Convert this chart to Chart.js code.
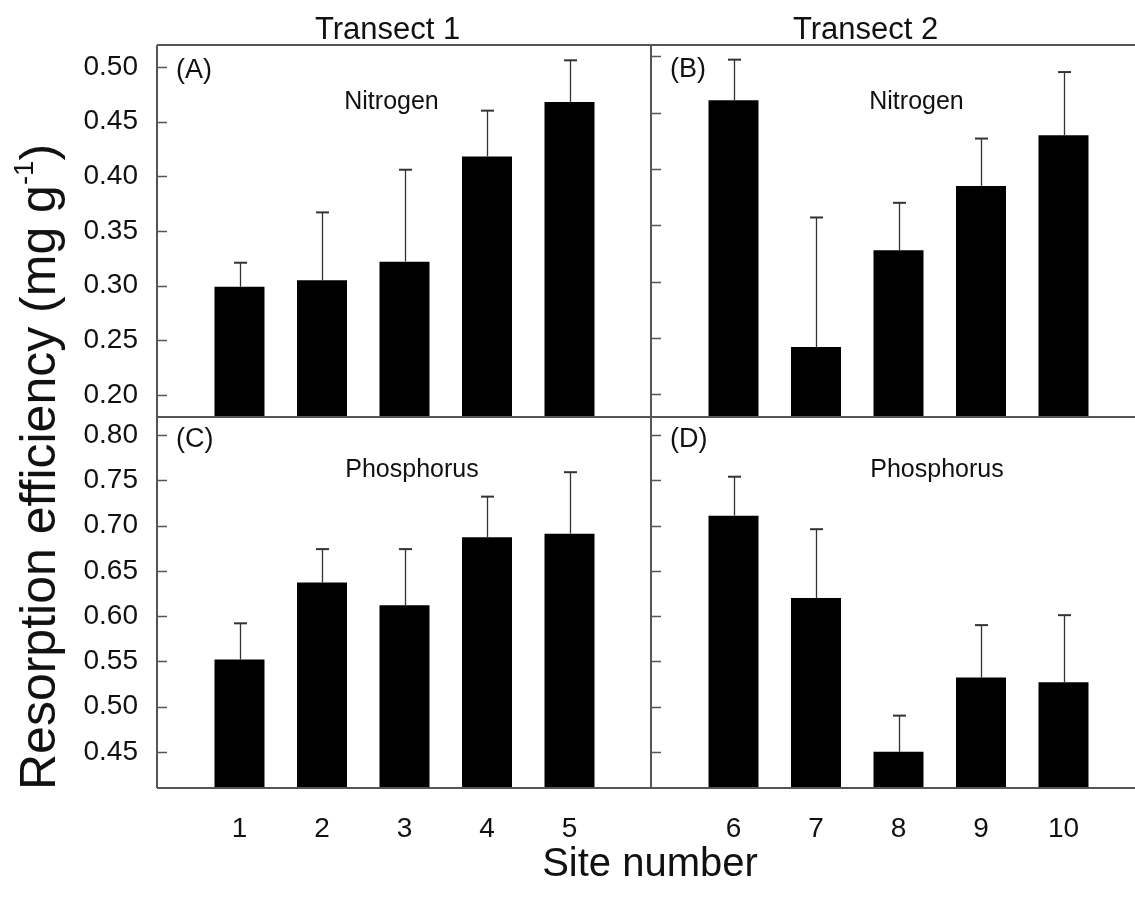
<!DOCTYPE html>
<html>
<head>
<meta charset="utf-8">
<script src="https://cdn.jsdelivr.net/npm/chart.js@4.4.1/dist/chart.umd.min.js"></script>
<style>
  html, body { margin: 0; padding: 0; background: #fff; overflow: hidden; }
  #wrap { position: relative; width: 1135px; height: 914px; overflow: hidden;
          font-family: "Liberation Sans", Arial, sans-serif; color: #111; }
  #wrap canvas { position: absolute; left: 0; top: 0; }
  .lbl { position: absolute; white-space: nowrap; line-height: 1; }
  .lbl sup { font-size: 0.55em; vertical-align: 0.8em; line-height: 0; }
</style>
</head>
<body>
<div id="wrap">
  <canvas id="panelA" width="1146" height="914"></canvas>
  <canvas id="panelB" width="1146" height="914"></canvas>
  <canvas id="panelC" width="1146" height="914"></canvas>
  <canvas id="panelD" width="1146" height="914"></canvas>

  <div class="lbl" style="left:315px; top:13px; font-size:31px;">Transect 1</div>
  <div class="lbl" style="left:793px; top:13px; font-size:31px;">Transect 2</div>
  <div class="lbl" style="left:38px; top:467px; font-size:50px; transform:translate(-50%,-50%) rotate(-90deg);">Resorption efficiency (mg g<sup>-1</sup>)</div>
  <div class="lbl" style="left:650px; top:842px; font-size:40px; transform:translateX(-50%);">Site number</div>
</div>

<script>
// Sites along each transect
const sitesT1 = [1, 2, 3, 4, 5];
const sitesT2 = [6, 7, 8, 9, 10];

// Nitrogen resorption efficiency: means and standard errors
const nitrogenT1    = [0.299, 0.305, 0.322, 0.418, 0.468];
const nitrogenT1Err = [0.022, 0.062, 0.084, 0.042, 0.038];
const nitrogenT2    = [0.461, 0.242, 0.328, 0.385, 0.430];
const nitrogenT2Err = [0.036, 0.115, 0.042, 0.042, 0.056];

// Phosphorus resorption efficiency: means and standard errors
const phosphorusT1    = [0.552, 0.637, 0.612, 0.687, 0.691];
const phosphorusT1Err = [0.040, 0.037, 0.062, 0.045, 0.068];
const phosphorusT2    = [0.711, 0.620, 0.450, 0.532, 0.527];
const phosphorusT2Err = [0.043, 0.076, 0.040, 0.058, 0.074];

// Y tick values
const nitrogenTicks   = [0.20, 0.25, 0.30, 0.35, 0.40, 0.45, 0.50];
const phosphorusTicks = [0.45, 0.50, 0.55, 0.60, 0.65, 0.70, 0.75, 0.80];

const FONT = '"Liberation Sans", Arial, sans-serif';
const AXIS_COLOR = '#555';
const W = 1146, H = 914;

// Panel frame: left axis, optional top/bottom lines, and inward tick marks
const framePlugin = {
  id: 'frame',
  afterDatasetsDraw(chart, args, o) {
    const { ctx, chartArea: a } = chart;
    const y = chart.scales.y;
    ctx.save();
    ctx.strokeStyle = AXIS_COLOR;
    ctx.lineWidth = 2;
    ctx.beginPath();
    ctx.moveTo(a.left, a.top); ctx.lineTo(a.left, a.bottom);
    if (o.top)    { ctx.moveTo(a.left, a.top);    ctx.lineTo(a.right, a.top); }
    if (o.bottom) { ctx.moveTo(a.left, a.bottom); ctx.lineTo(a.right, a.bottom); }
    ctx.stroke();
    ctx.lineWidth = 1.5;
    ctx.beginPath();
    y.ticks.forEach(t => {
      const py = Math.round(y.getPixelForValue(t.value)) + 0.5;
      ctx.moveTo(a.left, py); ctx.lineTo(a.left + 10, py);
    });
    ctx.stroke();
    ctx.restore();
  }
};

// Upper error bars with a short cap
const errorBarPlugin = {
  id: 'errorBars',
  afterDatasetsDraw(chart) {
    const { ctx } = chart;
    const y = chart.scales.y;
    const ds = chart.data.datasets[0];
    const meta = chart.getDatasetMeta(0);
    ctx.save();
    ctx.strokeStyle = '#333';
    meta.data.forEach((bar, i) => {
      const top = y.getPixelForValue(ds.data[i].y + ds.errors[i]);
      const x = Math.round(bar.x) + 0.5;
      ctx.lineWidth = 1.3;
      ctx.beginPath();
      ctx.moveTo(x, bar.y); ctx.lineTo(x, top);
      ctx.stroke();
      ctx.lineWidth = 2;
      ctx.beginPath();
      ctx.moveTo(x - 6.5, top); ctx.lineTo(x + 6.5, top);
      ctx.stroke();
    });
    ctx.restore();
  }
};

// Panel letter and element name inside each panel
const panelTextPlugin = {
  id: 'panelText',
  afterDraw(chart, args, o) {
    const { ctx, chartArea: a } = chart;
    ctx.save();
    ctx.fillStyle = '#111';
    ctx.textBaseline = 'middle';
    ctx.textAlign = 'left';
    ctx.font = '27px ' + FONT;
    ctx.fillText(o.tag, a.left + o.tagX, a.top + o.tagY);
    ctx.textAlign = 'center';
    ctx.font = '25px ' + FONT;
    ctx.fillText(o.name, a.left + o.nameX, a.top + o.nameY);
    ctx.restore();
  }
};

function panel(id, cfg) {
  new Chart(document.getElementById(id), {
    type: 'bar',
    data: {
      datasets: [{
        data: cfg.sites.map((s, i) => ({ x: s, y: cfg.values[i] })),
        errors: cfg.errors,
        backgroundColor: '#000',
        borderWidth: 0,
        barPercentage: 0.606,
        categoryPercentage: 1
      }]
    },
    options: {
      responsive: false,
      animation: false,
      devicePixelRatio: 1,
      layout: { padding: cfg.padding },
      plugins: {
        legend: { display: false },
        tooltip: { enabled: false },
        frame: cfg.frame,
        panelText: cfg.text
      },
      scales: {
        x: {
          type: 'linear',
          offset: false,
          min: cfg.xMin,
          max: cfg.xMax,
          display: cfg.showX,
          afterBuildTicks: s => { s.ticks = cfg.sites.map(v => ({ value: v })); },
          afterFit: s => { s.height = cfg.showX ? 126 : 0; },
          grid: { display: false, drawTicks: false },
          border: { display: false },
          ticks: {
            font: { size: 28, family: FONT },
            color: '#111',
            padding: 24,
            maxRotation: 0,
            autoSkip: false,
            callback: v => String(v)
          }
        },
        y: {
          type: 'linear',
          min: cfg.yMin,
          max: cfg.yMax,
          display: cfg.showY,
          afterBuildTicks: s => { s.ticks = cfg.ticks.map(v => ({ value: v })); },
          afterFit: s => { s.width = cfg.showY ? 157 : 0; },
          grid: { display: false, drawTicks: false },
          border: { display: false },
          ticks: {
            font: { size: 28, family: FONT },
            color: '#111',
            padding: 19,
            autoSkip: false,
            callback: v => Number(v).toFixed(2)
          }
        }
      }
    },
    plugins: [framePlugin, errorBarPlugin, panelTextPlugin]
  });
}

// (A) Transect 1, nitrogen
panel('panelA', {
  sites: sitesT1, values: nitrogenT1, errors: nitrogenT1Err, ticks: nitrogenTicks,
  xMin: 0, xMax: 6, yMin: 0.18, yMax: 0.52, showX: false, showY: true,
  padding: { left: 0, top: 45, right: W - 652, bottom: H - 417 },
  frame: { top: true, bottom: true },
  text: { tag: '(A)', tagX: 19, tagY: 26, name: 'Nitrogen', nameX: 234.5, nameY: 57 }
});

// (B) Transect 2, nitrogen
panel('panelB', {
  sites: sitesT2, values: nitrogenT2, errors: nitrogenT2Err, ticks: nitrogenTicks,
  xMin: 5, xMax: 11, yMin: 0.18, yMax: 0.51, showX: false, showY: false,
  padding: { left: 651, top: 45, right: 0, bottom: H - 417 },
  frame: { top: true, bottom: true },
  text: { tag: '(B)', tagX: 19, tagY: 25, name: 'Nitrogen', nameX: 265.5, nameY: 57 }
});

// (C) Transect 1, phosphorus
panel('panelC', {
  sites: sitesT1, values: phosphorusT1, errors: phosphorusT1Err, ticks: phosphorusTicks,
  xMin: 0, xMax: 6, yMin: 0.41, yMax: 0.82, showX: true, showY: true,
  padding: { left: 0, top: 417, right: W - 652, bottom: 0 },
  frame: { top: false, bottom: true },
  text: { tag: '(C)', tagX: 19, tagY: 23, name: 'Phosphorus', nameX: 255, nameY: 53 }
});

// (D) Transect 2, phosphorus
panel('panelD', {
  sites: sitesT2, values: phosphorusT2, errors: phosphorusT2Err, ticks: phosphorusTicks,
  xMin: 5, xMax: 11, yMin: 0.41, yMax: 0.82, showX: true, showY: false,
  padding: { left: 651, top: 417, right: 0, bottom: 0 },
  frame: { top: false, bottom: true },
  text: { tag: '(D)', tagX: 19, tagY: 23, name: 'Phosphorus', nameX: 286, nameY: 53 }
});
</script>
</body>
</html>
